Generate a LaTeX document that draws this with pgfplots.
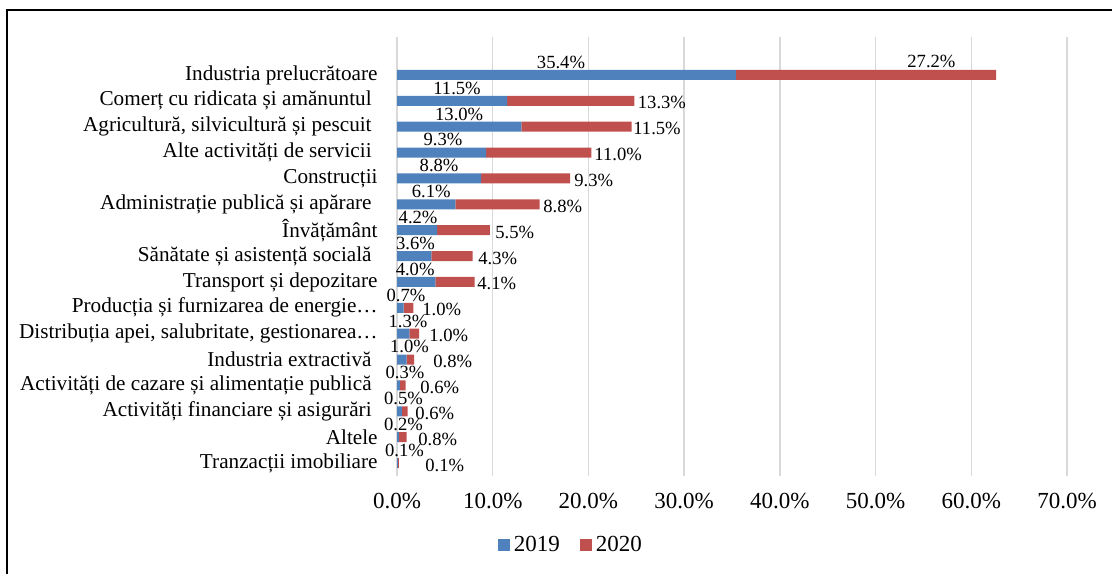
\documentclass[border=0pt]{standalone}
\usepackage{fontspec}
\setmainfont{Liberation Serif}
\usepackage{pgfplots}
\usepackage{pgfplotstable}
\pgfplotsset{compat=1.18}
\definecolor{cBlue}{HTML}{4F81BD}
\definecolor{cRed}{HTML}{C0504D}
\definecolor{cGrid}{HTML}{D9D9D9}

% row, share 2019, share 2020, label shifts from segment centre (pt)
\pgfplotstableread{
row v19 v20 dxa dxb dyb
0 35.4 27.2 -2.7 20.5 6.75
1 11.5 13.3 2.5 33.4 -1
2 13.0 11.5 0 28.25 -1
3 9.3 11.0 0.75 27.7 -1
4 8.8 9.3 0 24.15 -1
5 6.1 8.8 2.5 22.75 -1
6 4.2 5.5 0.5 15.75 -1
7 3.6 4.3 0.6 13 -1
8 4.0 4.1 -0.5 11.05 -1
9 0.7 1.0 2.85 6.75 -1
10 1.3 1.0 2.4 7.4 -1
11 1.0 0.8 3.85 11.3 -1
12 0.3 0.6 3.3 8.65 -1
13 0.5 0.6 2.05 5.15 -1
14 0.2 0.8 2.75 7.65 -1
15 0.1 0.1 3.5 13.3 -1
}\data

\begin{document}
\begin{tikzpicture}
\useasboundingbox (0pt,0pt) rectangle (556pt,-286.5pt);
\draw[line width=1pt] (3.5pt,-290pt) -- (3.5pt,-5pt) -- (560pt,-5pt);
\begin{axis}[
    at={(198.5pt,-238pt)}, anchor=south west,
    scale only axis, width=335pt, height=219.5pt,
    xbar stacked, bar width=5pt,
    xmin=0, xmax=70, ymin=-1.465, ymax=15.5, y dir=reverse,
    axis line style={draw=none},
    xmajorgrids, grid style={cGrid, line width=0.75pt},
    major tick length=0pt,
    xtick={0,10,...,70},
    xticklabels={0.0\%,10.0\%,20.0\%,30.0\%,40.0\%,50.0\%,60.0\%,70.0\%},
    xticklabel style={font=\fontsize{11.5}{13}\selectfont, inner sep=0pt, anchor=north, yshift=-8.5pt},
    ytick={0,...,15},
    yticklabels={
        Industria prelucrătoare,
        Comerț cu ridicata și amănuntul\kern3pt,
        {Agricultură, silvicultură și pescuit\kern3pt},
        Alte activități de servicii\kern3pt,
        Construcții,
        Administrație publică și apărare\kern3pt,
        Învățământ,
        Sănătate și asistență socială\kern3pt,
        Transport și depozitare,
        Producția și furnizarea de energie…,
        {Distribuția apei, salubritate, gestionarea…},
        Industria extractivă\kern3pt,
        Activități de cazare și alimentație publică\kern3pt,
        Activități financiare și asigurări\kern3pt,
        Altele,
        Tranzacții imobiliare},
    yticklabel style={font=\fontsize{10.6}{12}\selectfont, inner sep=0pt, anchor=east, xshift=-9.5pt},
    legend style={at={(0.261,-0.157)}, anchor=center, draw=none,
        legend columns=2, font=\fontsize{11.5}{13}\selectfont,
        /tikz/every even column/.append style={column sep=8pt}},
    legend image code/.code={\fill[#1] (0pt,-3pt) rectangle (6pt,3pt);},
]
\addplot[fill=cBlue, draw=none, point meta=explicit symbolic,
    visualization depends on={\thisrow{dxa} \as \dxa},
    nodes near coords={\pgfplotspointmeta\%},
    nodes near coords style={anchor=base, inner sep=0pt, xshift=\dxa pt, yshift=3.3pt,
        font=\fontsize{9.3}{10}\selectfont, text=black}]
    table[x=v19, y=row, meta=v19] {\data};
\addplot[fill=cRed, draw=none, point meta=explicit symbolic,
    visualization depends on={\thisrow{dxb} \as \dxb},
    visualization depends on={\thisrow{dyb} \as \dyb},
    nodes near coords={\pgfplotspointmeta\%},
    nodes near coords style={anchor=west, inner sep=0pt, xshift=\dxb pt, yshift=\dyb pt,
        font=\fontsize{9.3}{10}\selectfont, text=black}]
    table[x=v20, y=row, meta=v20] {\data};
\legend{2019,2020}
\end{axis}
\end{tikzpicture}
\end{document}
